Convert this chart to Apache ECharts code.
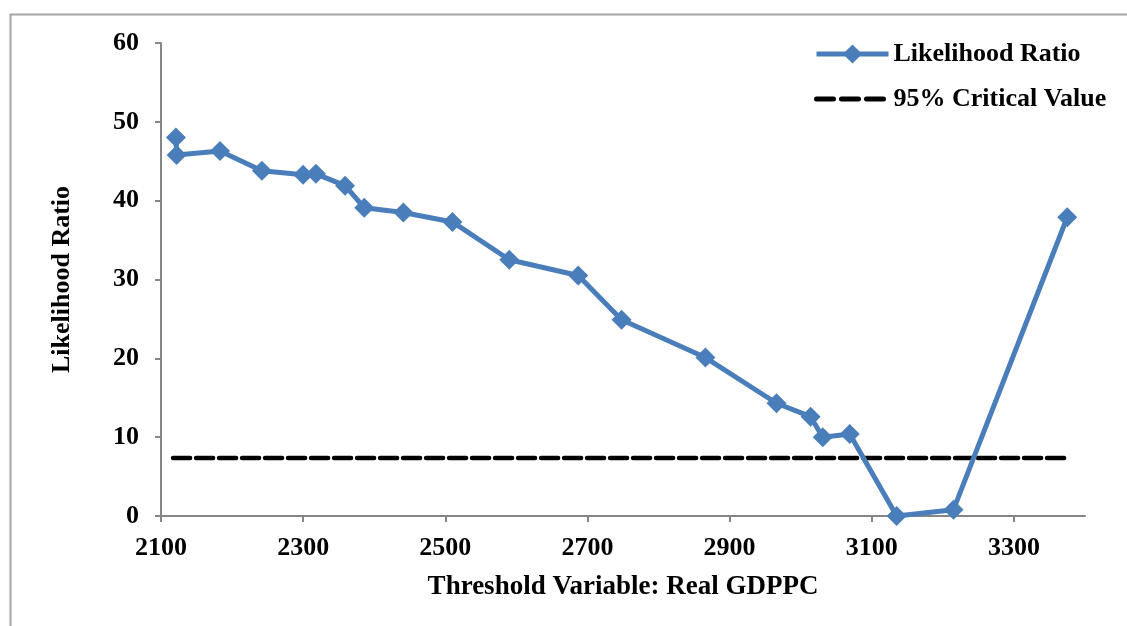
<!DOCTYPE html>
<html>
<head>
<meta charset="utf-8">
<script src="https://cdn.jsdelivr.net/npm/echarts@6/dist/echarts.min.js"></script>
<style>
html,body{margin:0;padding:0;background:#fff;}
#chart{width:1127px;height:626px;}
</style>
</head>
<body>
<div id="chart"></div>
<script>
// Data
const thresholds = [2121, 2122, 2183, 2242, 2300, 2318, 2359, 2386, 2441, 2510, 2590, 2687, 2748, 2866, 2966, 3014, 3031, 3069, 3135, 3215, 3375];
const lrValues   = [48.0, 45.8, 46.3, 43.8, 43.3, 43.4, 41.9, 39.1, 38.5, 37.3, 32.5, 30.5, 24.9, 20.1, 14.3, 12.6, 10.0, 10.4, 0.0, 0.8, 37.9];
const criticalValue = 7.36;
const criticalRange = [2117, 3372];
const xTicks = [2100, 2300, 2500, 2700, 2900, 3100, 3300];
const seriesNames = ['Likelihood Ratio', '95% Critical Value'];

const FONT = '"Liberation Serif", "Times New Roman", serif';
const lrData = thresholds.map((x, i) => [x, lrValues[i]]);
const cvData = criticalRange.map(x => [x, criticalValue]);

const chart = echarts.init(document.getElementById('chart'));
chart.setOption({
  animation: false,
  backgroundColor: '#fff',
  graphic: [{
    type: 'rect',
    shape: {x: 10.5, y: 14.5, width: 1200, height: 700},
    style: {fill: 'none', stroke: '#a6a6a6', lineWidth: 2},
    silent: true
  }],
  grid: {left: 161, right: 42, top: 43, bottom: 110, containLabel: false},
  legend: {
    orient: 'vertical',
    left: 809,
    top: 36,
    itemWidth: 72,
    itemHeight: 24,
    itemGap: 19,
    textStyle: {fontFamily: FONT, fontWeight: 'bold', fontSize: 26, color: '#000'},
    data: [
      {name: seriesNames[0], lineStyle: {width: 5}},
      {name: seriesNames[1], lineStyle: {width: 5, type: [17, 8]}, itemStyle: {opacity: 0}}
    ]
  },
  xAxis: {
    type: 'value',
    min: 2100,
    max: 3400,
    interval: 200,
    name: 'Threshold Variable: Real GDPPC',
    nameLocation: 'middle',
    nameGap: 58,
    nameTextStyle: {fontFamily: FONT, fontWeight: 'bold', fontSize: 27, color: '#000', verticalAlign: 'top'},
    axisLine: {show: true, lineStyle: {color: '#868686', width: 2}},
    axisTick: {show: true, length: 6, lineStyle: {color: '#868686', width: 2}, customValues: xTicks},
    axisLabel: {fontFamily: FONT, fontWeight: 'bold', fontSize: 26, color: '#000', margin: 19, customValues: xTicks,
      formatter: v => String(v)},
    splitLine: {show: false}
  },
  yAxis: {
    type: 'value',
    min: 0,
    max: 60,
    interval: 10,
    name: 'Likelihood Ratio',
    nameLocation: 'middle',
    nameGap: 86,
    nameRotate: 90,
    nameTextStyle: {fontFamily: FONT, fontWeight: 'bold', fontSize: 26, color: '#000'},
    axisLine: {show: true, lineStyle: {color: '#868686', width: 2}},
    axisTick: {show: true, length: 6, lineStyle: {color: '#868686', width: 2}},
    axisLabel: {fontFamily: FONT, fontWeight: 'bold', fontSize: 26, color: '#000', margin: 22,
      formatter: v => String(v)},
    splitLine: {show: false}
  },
  series: [
    {
      name: seriesNames[0],
      type: 'line',
      data: lrData,
      symbol: 'diamond',
      symbolSize: 20,
      color: '#4A7EBB',
      lineStyle: {color: '#4A7EBB', width: 5},
      itemStyle: {color: '#4A7EBB'},
      z: 3
    },
    {
      name: seriesNames[1],
      type: 'line',
      data: cvData,
      symbol: 'none',
      color: '#000',
      lineStyle: {color: '#000', width: 4.5, type: [17, 6], cap: 'round'},
      z: 2
    }
  ]
});
</script>
</body>
</html>
